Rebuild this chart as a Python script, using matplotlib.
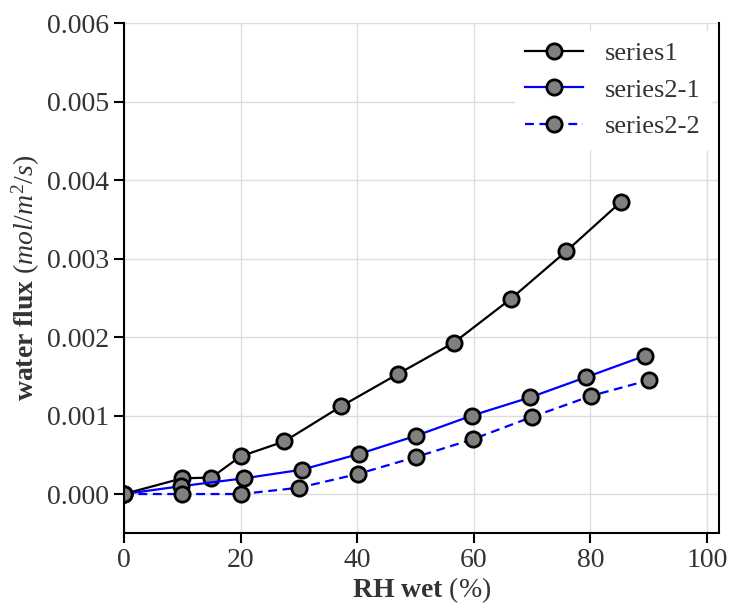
import numpy as np
import matplotlib
matplotlib.use('Agg')
import matplotlib.pyplot as plt
from matplotlib.ticker import FormatStrFormatter

plt.rcParams['font.family'] = 'Liberation Serif'
plt.rcParams['mathtext.fontset'] = 'custom'
plt.rcParams['mathtext.rm'] = 'Liberation Serif'
plt.rcParams['mathtext.it'] = 'Liberation Serif:italic'
plt.rcParams['mathtext.bf'] = 'Liberation Serif:bold'

# data
rh1 = [0, 10, 15, 20, 27.5, 37.3, 47, 56.6, 66.4, 75.8, 85.2]
flux1 = [0, 0.0002, 0.00021, 0.00048, 0.00067, 0.00112, 0.00153, 0.00193, 0.00249, 0.00309, 0.00372]

rh21 = [0, 9.8, 20.6, 30.5, 40.3, 50, 59.7, 69.6, 79.3, 89.3]
flux21 = [0, 0.0001, 0.0002, 0.00031, 0.00051, 0.00074, 0.001, 0.00123, 0.00149, 0.00176]

rh22 = [0, 10, 20, 30, 40.1, 50, 59.9, 69.9, 80.1, 90]
flux22 = [0, 0, 0, 0.00008, 0.000255, 0.00047, 0.0007, 0.00098, 0.00125, 0.00145]

fig = plt.figure(figsize=(7.29, 6.06), dpi=100)
ax = fig.add_axes([0.170, 0.120, 0.816, 0.842])

mk = dict(marker='o', markersize=11, markerfacecolor='#808080',
          markeredgecolor='black', markeredgewidth=2, linewidth=1.6)
ax.plot(rh1, flux1, '-', color='black', label='series1', **mk)
ax.plot(rh21, flux21, '-', color='blue', label='series2-1', **mk)
ax.plot(rh22, flux22, color='blue', linestyle=(0, (4, 2.5)), label='series2-2', **mk)

ax.set_xlim(0, 102)
ax.set_ylim(-0.0005, 0.006)
ax.set_xticks(np.arange(0, 101, 20))
ax.set_yticks(np.arange(0, 0.0061, 0.001))
ax.yaxis.set_major_formatter(FormatStrFormatter('%.3f'))
ax.grid(True, color='#dddddd', linewidth=1)
ax.set_axisbelow(True)
ax.spines['top'].set_visible(False)
for s in ['left', 'bottom', 'right']:
    ax.spines[s].set_linewidth(1.5)
ax.tick_params(axis='both', labelsize=20, length=7, width=1.5, colors='black',
               labelcolor='#333333', top=False, right=False)

ax.set_xlabel(r'$\mathbf{RH\ wet}$ (%)', fontsize=20, color='#333333', labelpad=2)
ax.set_ylabel(r'$\mathbf{water\ flux}$ $(mol/m^2/s)$', fontsize=20, color='#333333')

leg = ax.legend(loc='upper right', fontsize=19, frameon=True, framealpha=1,
                facecolor='white', edgecolor='white', fancybox=False,
                handlelength=2.2, borderaxespad=0.3)
for t in leg.get_texts():
    t.set_color('#333333')

fig.savefig('out.png', dpi=100)
